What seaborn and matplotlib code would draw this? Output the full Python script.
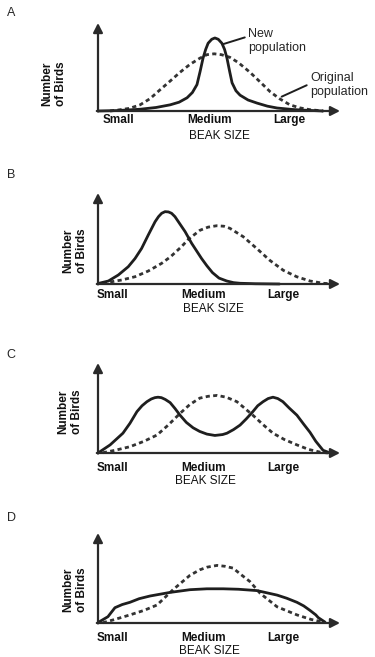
import matplotlib
matplotlib.use('Agg')
import matplotlib.pyplot as plt
import seaborn as sns
import pandas as pd

sns.set_style('white')
plt.rcParams['font.family'] = ['Liberation Sans', 'DejaVu Sans']

# labels
panel_names = ['A', 'B', 'C', 'D']
size_labels = ['Small', 'Medium', 'Large']
x_title = 'BEAK SIZE'
y_title = 'Number\nof Birds'
new_label = 'New\npopulation'
orig_label = 'Original\npopulation'

# curves (x: 0-100 along beak size axis, y: 0-100 up the count axis)
# panel A
orig_a_x = [5, 8, 13, 17.4, 21.5, 25.6, 29.8, 33.9, 38, 42.1, 45, 48, 51, 54.5, 58, 62.8, 67, 71.1, 75, 79.3, 83.5, 87.6, 93]
orig_a_y = [0, 1, 3, 7, 14, 24, 34, 44, 53, 60, 64, 65, 64, 61, 55, 44, 33, 22, 14, 7, 3.5, 1.5, 0]
new_a_x = [0, 8, 17.4, 24, 29.8, 33.5, 36.8, 39, 40.9, 42.2, 43.4, 44.5, 45.5, 47, 48.3, 49.7,
           51.2, 52.3, 53.3, 54.4, 55.4, 57, 58.7, 62, 65.7, 70, 74, 80, 84.7, 93]
new_a_y = [0, 0.5, 2, 4, 7, 10, 15, 21, 30, 45, 60, 70, 77, 81.5, 83, 81.5,
           77, 70, 60, 45, 32, 23, 18, 12.5, 9, 5.5, 3.4, 1.8, 1, 0]

# panel B
orig_b_x = [2, 4.3, 9.8, 15.3, 20.8, 26.3, 30, 34.5, 37.3, 42.1, 45.5, 49, 52, 54.5, 60, 65.6, 71, 76.6, 82.1, 87.6, 93, 96]
orig_b_y = [0.5, 1.9, 4.4, 8, 14.3, 22.7, 30, 41, 49, 59, 62.5, 64, 63.5, 61.2, 52, 39, 26, 15, 8, 3.3, 0.8, 0.3]
new_b_x = [0, 4.3, 8.4, 12.5, 15.3, 18, 20.8, 23.6, 25, 26.3, 27.7, 29.1, 30.4, 31.8, 33.2, 36, 38.7,
           42.8, 45, 47.3, 50, 53.2, 56, 58.7, 65, 75]
new_b_y = [0.5, 3.3, 9.9, 19, 28, 39, 54, 68.5, 74, 77.7, 79.5, 79.2, 77.7, 74, 68.5, 57.5, 44.7,
           28, 20, 12.5, 6.5, 3.3, 1.5, 0.8, 0.3, 0]

# panel C
orig_c_x = [2, 7, 13.2, 19, 24.4, 29, 33.9, 38, 42.1, 45.5, 49.2, 53, 57.4, 60.5, 64, 68, 72.3, 77, 82.2, 87, 91.7, 95]
orig_c_y = [0.3, 3, 7, 13, 20, 31, 44, 54, 61, 63, 64, 62, 57, 50, 42, 32, 22, 15, 9, 4, 1, 0]
new_c_x = [0, 5, 10.3, 13.2, 16.1, 18.2, 20.2, 22, 23.5, 24.8, 26.2, 27.8, 29.8, 31.8, 33.9, 36.5, 39.3,
           42, 45, 48.3, 51.5, 53.3, 56, 58.7, 61.3, 64, 66, 68.2, 70.3, 72.3, 74.3, 76.4,
           79, 82.2, 85, 87.6, 90, 93, 95]
new_c_y = [0, 9, 22, 33, 46, 52.5, 57, 60, 61.5, 62, 61.5, 59.5, 56, 49.5, 42, 34, 28,
           24, 21, 19.5, 20.5, 22, 26, 31, 38, 46, 52.5, 57, 60.5, 62, 60.5, 57,
           50, 42, 32, 23, 13, 3, 1]

# panel D
orig_d_x = [2, 7, 13.2, 19, 24.4, 31, 38, 42, 45, 49.2, 52.5, 55.8, 59, 62.8, 67, 74, 82.2, 88, 93]
orig_d_y = [0.3, 4, 9, 14, 20, 37, 53, 59, 62, 64, 63, 61, 54, 46, 33, 18, 9, 4, 1]
new_d_x = [0, 4.1, 7, 10, 13.2, 17, 21.5, 29.8, 38, 45, 51.7, 58, 65.7, 74, 78, 82.2, 85, 87.6, 90, 91, 93.8]
new_d_y = [0.5, 7, 17, 20.5, 23, 27, 30, 34, 37, 38, 38, 37.5, 36, 31, 27.5, 23, 19, 14, 9, 6, 1]

orig_x = [orig_a_x, orig_b_x, orig_c_x, orig_d_x]
orig_y = [orig_a_y, orig_b_y, orig_c_y, orig_d_y]
new_x = [new_a_x, new_b_x, new_c_x, new_d_x]
new_y = [new_a_y, new_b_y, new_c_y, new_d_y]

# layout (pixels in a 375x657 figure)
W, H = 375, 657
ax_left, ax_right = 98, 340
ax_tops = [23, 193, 363, 533]
ax_bases = [111, 284, 453, 623]
tick_pos = [[8.5, 46.3, 79.1], [5.8, 43.8, 76.4], [5.8, 43.8, 76.4], [5.8, 43.8, 76.4]]
tick_pad = [2.3, 3.8, 6.3, 6.3]
xlabel_pos = [(0.5, -0.219), (0.476, -0.206), (0.442, -0.247), (0.46, -0.247)]
ylabel_pos = [(-0.183, 0.307), (-0.095, 0.368), (-0.116, 0.456), (-0.095, 0.367)]
letter_y = [13, 175, 355, 518]

curve_col = '#1e1e1e'
dash_col = '#333333'
axis_col = '#2a2a2a'

fig = plt.figure(figsize=(W / 100, H / 100), dpi=100)

for i, name in enumerate(panel_names):
    top, base = ax_tops[i], ax_bases[i]
    ax = fig.add_axes([ax_left / W, 1 - base / H, (ax_right - ax_left) / W, (base - top) / H])
    ax.set_xlim(0, 100)
    ax.set_ylim(0, 100)

    orig = pd.DataFrame({'size': orig_x[i], 'count': orig_y[i]})
    new = pd.DataFrame({'size': new_x[i], 'count': new_y[i]})
    sns.lineplot(data=orig, x='size', y='count', ax=ax, color=dash_col,
                 lw=2.0, estimator=None, clip_on=False)
    ax.lines[-1].set_dashes((1.5, 1.2))
    sns.lineplot(data=new, x='size', y='count', ax=ax, color=curve_col,
                 lw=2.0, estimator=None, clip_on=False,
                 solid_joinstyle='round', solid_capstyle='round')

    # axes drawn as arrows
    for spine in ax.spines.values():
        spine.set_visible(False)
    arrow = dict(arrowstyle='-|>,head_length=0.55,head_width=0.28', lw=1.6,
                 color=axis_col, shrinkA=0, shrinkB=0)
    ax.annotate('', xy=(100, 0), xytext=(-0.5, 0), arrowprops=arrow, annotation_clip=False)
    ax.annotate('', xy=(0, 100), xytext=(0, -0.5), arrowprops=arrow, annotation_clip=False)

    ax.set_xticks(tick_pos[i], labels=size_labels, fontsize=8.5, fontweight='bold')
    ax.set_yticks([])
    ax.tick_params(axis='x', length=0, pad=tick_pad[i], labelcolor='#111111')
    ax.set_xlabel(x_title, fontsize=8.5, color='#111111')
    ax.xaxis.set_label_coords(*xlabel_pos[i])
    ax.set_ylabel('')
    ax.text(*ylabel_pos[i], y_title, transform=ax.transAxes, rotation=90,
            ha='center', va='center', fontsize=8.5, fontweight='bold',
            linespacing=1.2, color='#111111')

    fig.text(11 / W, 1 - letter_y[i] / H, name, ha='center', va='center', fontsize=9)

    if name == 'A':
        ax.annotate(new_label, xy=(51.5, 75.8), xytext=(62, 79.5), fontsize=9,
                    ha='left', va='center', annotation_clip=False,
                    arrowprops=dict(arrowstyle='-', lw=1.4, color=curve_col,
                                    relpos=(0, 0.68), shrinkA=0, shrinkB=0))
        ax.annotate(orig_label, xy=(75.9, 16.3), xytext=(87.6, 29.5), fontsize=9,
                    ha='left', va='center', annotation_clip=False,
                    arrowprops=dict(arrowstyle='-', lw=1.4, color=curve_col,
                                    relpos=(0, 0.55), shrinkA=0, shrinkB=0))

fig.savefig('out.png', dpi=100)
